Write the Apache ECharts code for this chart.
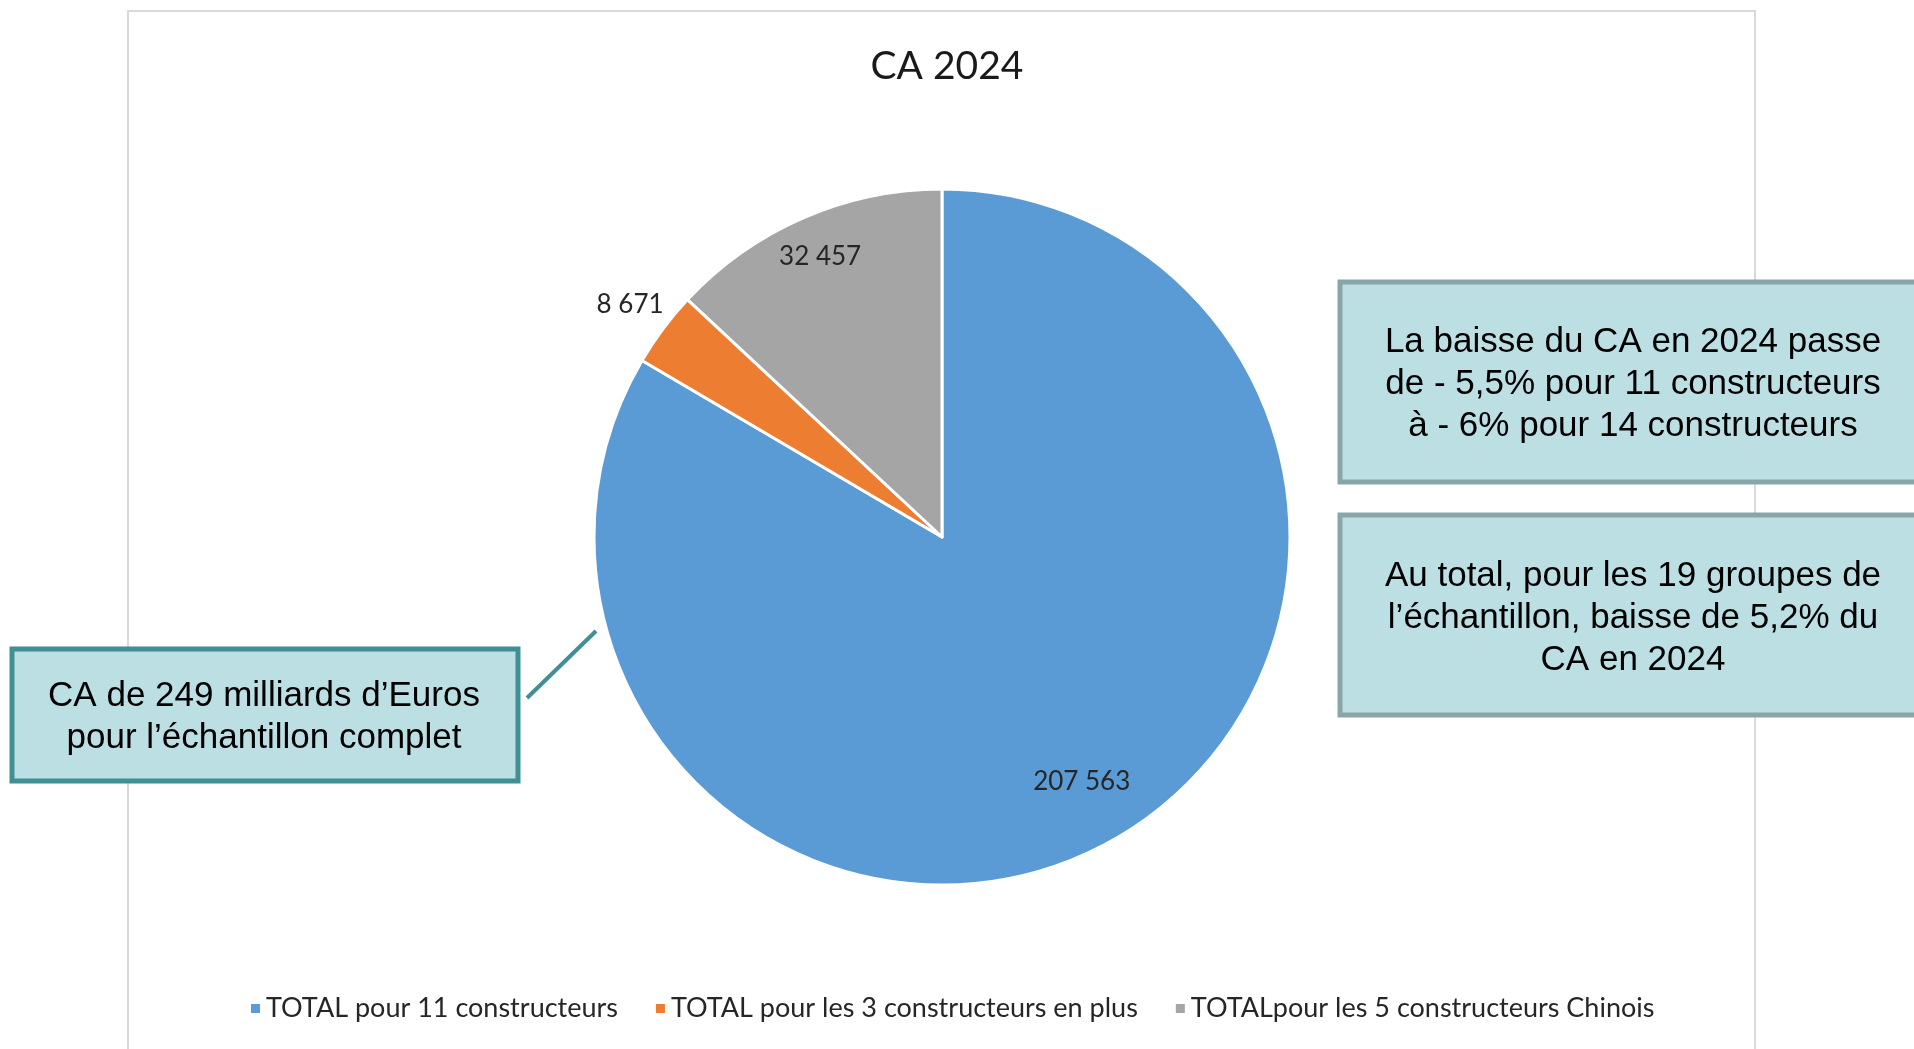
<!DOCTYPE html>
<html>
<head>
<meta charset="utf-8">
<script src="https://cdn.jsdelivr.net/npm/echarts@6/dist/echarts.min.js"></script>
<style>
html,body{margin:0;padding:0;background:#fff;}
#chart{width:1914px;height:1049px;}
</style>
</head>
<body>
<div id="chart"></div>
<script>
// ---- data ----
const titleText = 'CA 2024';
const categories = [
  'TOTAL pour 11 constructeurs',
  'TOTAL pour les 3 constructeurs en plus',
  'TOTALpour les 5 constructeurs Chinois'
];
const values = [207563, 8671, 32457];
const calloutLeft = ['CA de 249 milliards d\u2019Euros', 'pour l\u2019\u00e9chantillon complet'];
const calloutRight1 = ['La baisse du CA en 2024 passe', 'de - 5,5% pour 11 constructeurs', '\u00e0 - 6% pour 14 constructeurs'];
const calloutRight2 = ['Au total, pour les 19 groupes de', 'l\u2019\u00e9chantillon, baisse de 5,2% du', 'CA en 2024'];

// ---- styles / layout ----
const colors = ['#5b9bd5', '#ed7d31', '#a5a5a5'];
const labelRadiusFrac = [0.80, 1.11, 0.87];
const CX = 942, CY = 537, R = 348;
const calibriLike = 'Lato, "Open Sans", sans-serif';
const arialLike = '"Liberation Sans", Arial, sans-serif';

function fmt(v) {
  return String(v).replace(/\B(?=(\d{3})+(?!\d))/g, ' ');
}

const pieData = categories.map((c, i) => ({ name: c, value: values[i], itemStyle: { color: colors[i] } }));

const labelSeries = categories.map((c, k) => {
  const f = labelRadiusFrac[k];
  const r0 = f <= 1 ? (2 * f - 1) * R : R;
  const r1 = f <= 1 ? R : (2 * f - 1) * R;
  return {
    type: 'pie',
    center: [CX, CY],
    radius: [r0, r1],
    startAngle: 90,
    clockwise: true,
    silent: true,
    z: 5,
    itemStyle: { color: 'rgba(0,0,0,0)', borderWidth: 0 },
    emphasis: { disabled: true },
    labelLine: { show: false },
    data: categories.map((cc, i) => ({
      name: cc,
      value: values[i],
      label: {
        show: i === k,
        position: 'inside',
        formatter: p => fmt(p.value),
        fontFamily: calibriLike,
        fontSize: 26,
        color: '#262626'
      }
    }))
  };
});

const chart = echarts.init(document.getElementById('chart'), null, { renderer: 'canvas' });

function boxGraphic(x, y, w, h, fill, stroke, lines, textCx, firstLineY, lineH) {
  const els = [{
    type: 'rect',
    shape: { x: x, y: y, width: w, height: h },
    style: { fill: fill, stroke: stroke, lineWidth: 5 },
    z: 10
  }];
  lines.forEach((t, i) => {
    els.push({
      type: 'text',
      x: textCx,
      y: firstLineY + i * lineH,
      style: {
        text: t,
        fontFamily: arialLike,
        fontSize: 35,
        fill: '#000',
        align: 'center',
        verticalAlign: 'middle'
      },
      z: 11
    });
  });
  return els;
}

const graphics = [].concat(
  [{
    type: 'rect',
    shape: { x: 128, y: 11, width: 1627, height: 1060 },
    style: { fill: 'none', stroke: '#d9d9d9', lineWidth: 2 },
    z: -1, silent: true
  }],
  boxGraphic(1340, 282, 590, 200, '#bbdfe3', '#8aa5a8', calloutRight1, 1633, 342, 42),
  boxGraphic(1340, 515, 590, 200, '#bbdfe3', '#8aa5a8', calloutRight2, 1633, 576, 42),
  boxGraphic(12, 649, 506, 132, '#bbdfe3', '#3f8f94', calloutLeft, 264, 696, 42),
  [{
    type: 'line',
    shape: { x1: 527, y1: 698, x2: 596, y2: 631 },
    style: { stroke: '#3f8f94', lineWidth: 4 },
    z: 10
  }]
);

chart.setOption({
  backgroundColor: '#ffffff',
  animation: false,
  title: {
    text: titleText,
    left: CX,
    top: 42,
    textAlign: 'center',
    textStyle: { fontFamily: calibriLike, fontSize: 39, fontWeight: 'normal', color: '#1a1a1a' }
  },
  legend: {
    data: categories,
    left: 244,
    top: 990,
    orient: 'horizontal',
    icon: 'rect',
    itemWidth: 11,
    itemHeight: 11,
    itemGap: 36,
    textStyle: { fontFamily: calibriLike, fontSize: 27, color: '#262626' }
  },
  series: [{
    type: 'pie',
    center: [CX, CY],
    radius: [0, R],
    startAngle: 90,
    clockwise: true,
    z: 2,
    itemStyle: { borderColor: '#ffffff', borderWidth: 3 },
    label: { show: false },
    labelLine: { show: false },
    emphasis: { scale: false },
    data: pieData
  }].concat(labelSeries),
  graphic: graphics
});
</script>
</body>
</html>
